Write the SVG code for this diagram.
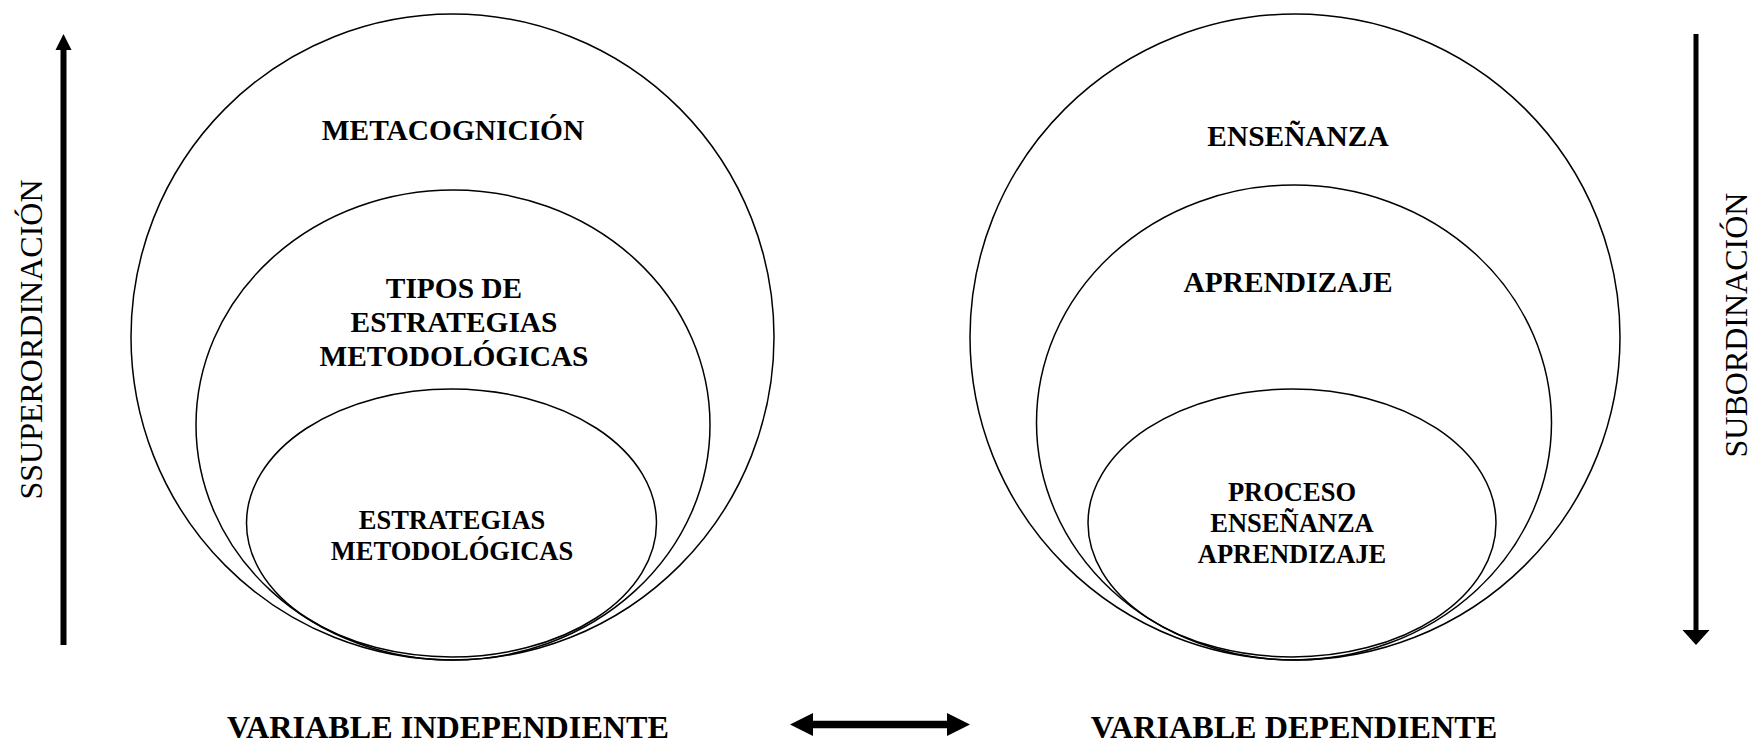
<svg xmlns="http://www.w3.org/2000/svg" width="1759" height="746" viewBox="0 0 1759 746">
<style>
.sh{fill:none;stroke:#000;stroke-width:1.5}
.b{font-family:"Liberation Serif","Times New Roman",serif;font-weight:bold;text-anchor:middle;fill:#000}
.r{font-family:"Liberation Serif","Times New Roman",serif;text-anchor:middle;fill:#000}
.big{font-size:29.4px}
.sm{font-size:26.5px}
.ax{stroke:#000;fill:none}
.hd{fill:#000}
</style>
<rect width="1759" height="746" fill="#fff"/>
<g id="metacognicion">
<ellipse class="sh" cx="452.5" cy="337" rx="321.5" ry="323"/>
<text class="b big" x="453" y="140">METACOGNICIÓN</text>
</g>
<g id="tipos-estrategias">
<ellipse class="sh" cx="453" cy="425" rx="257" ry="235"/>
<text class="b big" x="454" y="298">TIPOS DE</text>
<text class="b big" x="454" y="332">ESTRATEGIAS</text>
<text class="b big" x="454" y="366">METODOLÓGICAS</text>
</g>
<g id="estrategias">
<ellipse class="sh" cx="451.5" cy="523" rx="205" ry="134"/>
<text class="b sm" x="452" y="529">ESTRATEGIAS</text>
<text class="b sm" x="452" y="560">METODOLÓGICAS</text>
</g>
<g id="ensenanza">
<ellipse class="sh" cx="1295" cy="337" rx="325" ry="323"/>
<text class="b big" x="1298" y="146">ENSEÑANZA</text>
</g>
<g id="aprendizaje">
<ellipse class="sh" cx="1294" cy="422.5" rx="257.5" ry="237.5"/>
<text class="b big" x="1288" y="292">APRENDIZAJE</text>
</g>
<g id="proceso">
<ellipse class="sh" cx="1292" cy="523" rx="204" ry="134"/>
<text class="b sm" x="1292" y="501">PROCESO</text>
<text class="b sm" x="1292" y="532">ENSEÑANZA</text>
<text class="b sm" x="1292" y="563">APRENDIZAJE</text>
</g>
<g id="labels">
<text class="r" font-size="32" transform="translate(41.5,339.5) rotate(-90)">SSUPERORDINACIÓN</text>
<text class="r" font-size="32" transform="translate(1747,325) rotate(-90)">SUBORDINACIÓN</text>
<text class="b" x="448" y="738" font-size="32.2">VARIABLE INDEPENDIENTE</text>
<text class="b" x="1294" y="738" font-size="32.2">VARIABLE DEPENDIENTE</text>
</g>
<g id="connectors">
<line class="ax" x1="63.5" y1="645" x2="63.5" y2="48" stroke-width="6"/>
<path class="hd" d="M63.5,34 L71.5,50 L55.5,50 Z"/>
<line class="ax" x1="1696" y1="34" x2="1696" y2="632" stroke-width="5"/>
<path class="hd" d="M1696,645 L1682.5,630 L1709.5,630 Z"/>
<path class="hd" d="M790,724.5 L813,713 L813,720.7 L947,720.7 L947,713 L970,724.5 L947,736 L947,728.3 L813,728.3 L813,736 Z"/>
</g>
</svg>
